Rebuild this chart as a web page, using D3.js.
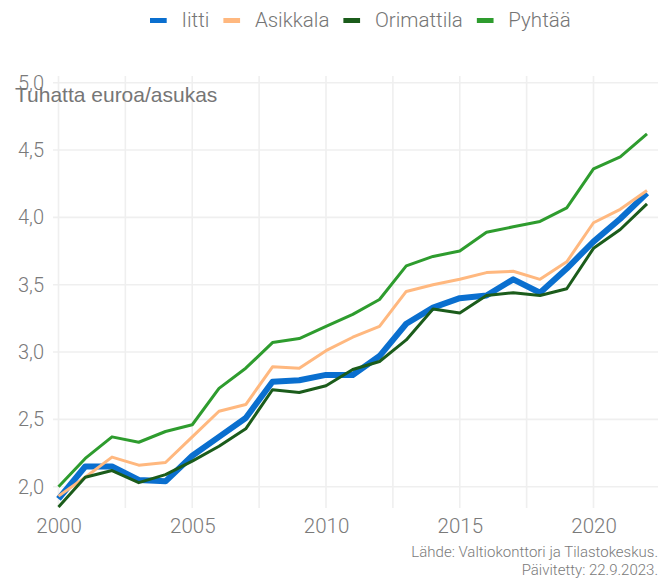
<!DOCTYPE html>
<html>
<head>
<meta charset="utf-8">
<script src="https://cdn.jsdelivr.net/npm/d3@7"></script>
<style>
  body { margin: 0; background: #fff; }
  svg { display: block; }
</style>
</head>
<body>
<div id="viz"></div>
<script>
// chart data (thousand euros per inhabitant)
var years = [2000, 2001, 2002, 2003, 2004, 2005, 2006, 2007, 2008, 2009, 2010,
             2011, 2012, 2013, 2014, 2015, 2016, 2017, 2018, 2019, 2020, 2021, 2022];
var iitti      = [1.91, 2.15, 2.15, 2.05, 2.04, 2.23, 2.37, 2.51, 2.78, 2.79, 2.83,
                  2.83, 2.97, 3.21, 3.33, 3.40, 3.42, 3.54, 3.44, 3.62, 3.82, 3.99, 4.18];
var asikkala   = [1.93, 2.07, 2.22, 2.16, 2.18, 2.37, 2.56, 2.61, 2.89, 2.88, 3.01,
                  3.11, 3.19, 3.45, 3.50, 3.54, 3.59, 3.60, 3.54, 3.67, 3.96, 4.06, 4.20];
var orimattila = [1.85, 2.07, 2.12, 2.03, 2.09, 2.19, 2.30, 2.43, 2.72, 2.70, 2.75,
                  2.87, 2.93, 3.09, 3.32, 3.29, 3.42, 3.44, 3.42, 3.47, 3.77, 3.91, 4.10];
var pyhtaa     = [2.00, 2.21, 2.37, 2.33, 2.41, 2.46, 2.73, 2.88, 3.07, 3.10, 3.19,
                  3.28, 3.39, 3.64, 3.71, 3.75, 3.89, 3.93, 3.97, 4.07, 4.36, 4.45, 4.62];

var seriesNames = ["Iitti", "Asikkala", "Orimattila", "Pyhtää"];
var seriesValues = [iitti, asikkala, orimattila, pyhtaa];
var seriesColors = ["#0a6fcf", "#ffb87f", "#1b5c1b", "#2e9c2e"];
var seriesWidths = [6, 3, 3, 3];

var yTicks = [2.0, 2.5, 3.0, 3.5, 4.0, 4.5, 5.0];
var xTicks = [2000, 2005, 2010, 2015, 2020];
var xMinor = [2002.5, 2007.5, 2012.5, 2017.5];

var width = 669, height = 578;
var panel = {left: 53, right: 658, top: 76, bottom: 508};

var svg = d3.select("#viz").append("svg")
  .attr("width", width)
  .attr("height", height);

var x = d3.scaleLinear().domain([2000, 2022]).range([58.5, 647]);
var y = d3.scaleLinear().domain([2, 5]).range([486.7, 82.7]);

var tickFont = "Roboto, 'Noto Sans', sans-serif";

// grid lines
var grid = svg.append("g");
grid.selectAll(".hgrid")
  .data(yTicks)
  .enter().append("line")
  .attr("x1", panel.left).attr("x2", panel.right)
  .attr("y1", function(d) { return y(d); })
  .attr("y2", function(d) { return y(d); })
  .attr("stroke", "#efefef")
  .attr("stroke-width", 1.6);

grid.selectAll(".vgrid")
  .data(xTicks.concat(xMinor))
  .enter().append("line")
  .attr("y1", panel.top).attr("y2", panel.bottom)
  .attr("x1", function(d) { return x(d); })
  .attr("x2", function(d) { return x(d); })
  .attr("stroke", "#efefef")
  .attr("stroke-width", 1.6);

// axes (text only)
var yAxis = svg.append("g")
  .attr("transform", "translate(" + 46 + ",0)")
  .call(d3.axisLeft(y).tickValues(yTicks).tickSize(0).tickPadding(2)
    .tickFormat(function(d) { return d3.format(".1f")(d).replace(".", ","); }));
yAxis.select(".domain").remove();
yAxis.selectAll("text")
  .attr("font-family", tickFont)
  .attr("font-weight", 300)
  .attr("font-size", 20)
  .attr("fill", "#7a7a7a");

var xAxis = svg.append("g")
  .attr("transform", "translate(0," + 518.5 + ")")
  .call(d3.axisBottom(x).tickValues(xTicks).tickSize(0).tickPadding(0)
    .tickFormat(d3.format("d")));
xAxis.select(".domain").remove();
xAxis.selectAll("text")
  .attr("font-family", tickFont)
  .attr("font-weight", 300)
  .attr("font-size", 20.5)
  .attr("fill", "#7a7a7a");

// y axis title, sitting on top of the 5,0 label (as in the original)
svg.append("text")
  .attr("x", 15)
  .attr("y", 101.5)
  .attr("font-family", "'Liberation Sans', Arial, sans-serif")
  .attr("font-size", 21)
  .attr("fill", "#767676")
  .text("Tuhatta euroa/asukas");

// the lines
var line = d3.line()
  .x(function(d, i) { return x(years[i]); })
  .y(function(d) { return y(d); });

svg.append("g").selectAll("path")
  .data(seriesValues)
  .enter().append("path")
  .attr("d", line)
  .attr("fill", "none")
  .attr("stroke", function(d, i) { return seriesColors[i]; })
  .attr("stroke-width", function(d, i) { return seriesWidths[i]; })
  .attr("stroke-linejoin", "round");

// legend
var legend = svg.append("g");
var lx = 150;
seriesNames.forEach(function(name, i) {
  legend.append("line")
    .attr("x1", lx).attr("x2", lx + 16.7)
    .attr("y1", 20.5).attr("y2", 20.5)
    .attr("stroke", seriesColors[i])
    .attr("stroke-width", 5);
  var t = legend.append("text")
    .attr("x", lx + 31.5)
    .attr("y", 27.3)
    .attr("font-family", tickFont)
    .attr("font-weight", 300)
    .attr("font-size", 20.5)
    .attr("fill", "#757575")
    .text(name);
  lx = lx + 31.5 + t.node().getComputedTextLength() + 14;
});

// caption
var caption = ["Lähde: Valtiokonttori ja Tilastokeskus.", "Päivitetty: 22.9.2023."];
svg.append("g").selectAll("text")
  .data(caption)
  .enter().append("text")
  .attr("x", 658)
  .attr("y", function(d, i) { return 556.5 + i * 18; })
  .attr("text-anchor", "end")
  .attr("font-family", tickFont)
  .attr("font-weight", 300)
  .attr("font-size", 15)
  .attr("fill", "#7a7a7a")
  .text(function(d) { return d; });
</script>
</body>
</html>
